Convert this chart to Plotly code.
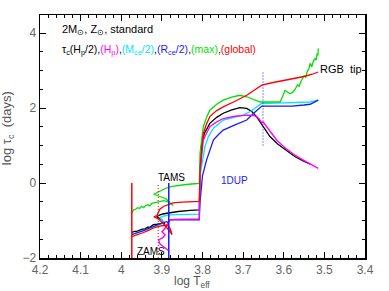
import plotly.graph_objects as go

# ---- data (log Teff, log tau_c) ----
black_T = [3.974,3.968,3.962,3.955,3.948,3.942,3.935,3.928,3.921,3.912,3.903,3.896,3.893,3.900,3.913,3.905,3.895,3.880,3.860,3.830,3.808,3.806,3.802,3.795,3.782,3.765,3.749,3.728,3.708,3.691,3.678,3.667,3.658,3.650,3.634,3.615,3.593,3.572,3.552,3.535]
black_y = [-1.32,-1.29,-1.29,-1.25,-1.23,-1.23,-1.18,-1.17,-1.11,-1.10,-1.08,-1.07,-1.10,-0.98,-0.90,-0.85,-0.82,-0.79,-0.76,-0.73,-0.72,0.20,1.06,1.33,1.59,1.75,1.86,1.95,2.01,1.99,1.90,1.77,1.62,1.47,1.24,1.04,0.86,0.70,0.59,0.50]

mag_T = [3.884,3.893,3.905,3.908,3.897,3.892,3.900,3.893,3.888,3.880,3.870,3.808,3.806,3.798,3.782,3.765,3.749,3.720,3.691,3.675,3.667,3.660,3.655,3.650,3.642,3.630,3.617,3.597,3.577,3.555,3.535,3.515]
mag_y = [-1.80,-1.72,-1.62,-1.52,-1.45,-1.38,-1.30,-1.22,-1.12,-0.98,-0.97,-0.96,0.30,1.15,1.50,1.63,1.72,1.78,1.81,1.80,1.77,1.70,1.62,1.62,1.50,1.32,1.14,0.94,0.78,0.63,0.50,0.39]

cyan_T = [3.974,3.940,3.910,3.895,3.905,3.895,3.880,3.850,3.808,3.806,3.794,3.785,3.773,3.760,3.749,3.720,3.700,3.680,3.665,3.655,3.620,3.580,3.550,3.535,3.515]
cyan_y = [-1.36,-1.25,-1.13,-1.05,-0.92,-0.88,-0.85,-0.84,-0.83,0.20,0.97,1.25,1.46,1.58,1.68,1.76,1.81,1.92,2.05,2.12,2.13,2.14,2.15,2.16,2.21]

blue_T = [3.974,3.960,3.945,3.930,3.915,3.900,3.888,3.885,3.880,3.850,3.808,3.806,3.800,3.790,3.773,3.760,3.749,3.720,3.691,3.672,3.654,3.620,3.580,3.550,3.535,3.515]
blue_y = [-1.38,-1.33,-1.27,-1.20,-1.13,-1.07,-1.03,-1.06,-0.98,-0.98,-0.98,-0.50,0.20,0.61,1.15,1.30,1.41,1.55,1.68,1.88,2.05,2.05,2.05,2.08,2.10,2.21]

green_T = [3.974,3.970,3.965,3.960,3.955,3.950,3.945,3.940,3.935,3.930,3.925,3.915,3.905,3.895,3.885,3.872,3.878,3.890,3.905,3.920,3.905,3.890,3.875,3.860,3.840,3.820,3.808,3.806,3.798,3.790,3.782,3.765,3.749,3.728,3.708,3.691,3.672,3.658,3.630,3.609,3.603,3.597,3.590,3.585,3.577,3.572,3.566,3.562,3.558,3.554,3.550,3.546,3.542,3.538,3.535,3.531,3.527,3.523,3.520,3.518,3.516,3.515]
green_y = [-0.80,-0.72,-0.70,-0.66,-0.68,-0.62,-0.66,-0.60,-0.58,-0.61,-0.54,-0.52,-0.50,-0.47,-0.50,-0.60,-0.55,-0.42,-0.35,-0.30,-0.22,-0.14,-0.09,-0.06,-0.04,-0.02,-0.01,0.80,1.50,1.75,1.94,2.10,2.21,2.29,2.34,2.30,2.23,2.16,2.16,2.16,2.30,2.47,2.42,2.38,2.43,2.50,2.62,2.58,2.70,2.78,2.86,2.82,2.98,3.05,3.19,3.10,3.25,3.32,3.28,3.45,3.40,3.59]

red_T = [3.974,3.960,3.945,3.930,3.921,3.905,3.888,3.880,3.875,3.880,3.895,3.910,3.920,3.912,3.905,3.895,3.872,3.850,3.808,3.806,3.798,3.790,3.782,3.765,3.749,3.720,3.691,3.672,3.654,3.626,3.600,3.570,3.550,3.530,3.515]
red_y = [-1.43,-1.38,-1.32,-1.25,-1.20,-1.15,-1.12,-1.20,-1.38,-1.30,-1.10,-0.95,-0.90,-0.87,-0.70,-0.62,-0.53,-0.51,-0.49,0.40,1.32,1.58,1.77,1.93,2.03,2.18,2.34,2.48,2.61,2.68,2.73,2.79,2.84,2.90,2.96]

# evolutionary markers (log Teff) and their vertical extent (log tau_c)
zams_T = 3.974
tams_T = 3.909
gap_T = 3.883
dup_T = 3.651
marker_lo = -2.0
marker_hi = 0.0
dup_lo, dup_hi = 1.0, 3.0

fig = go.Figure()
series = [
    (black_T, black_y, "black"),
    (cyan_T, cyan_y, "#00e5ff"),
    (blue_T, blue_y, "#1a1aff"),
    (mag_T, mag_y, "#ff00ff"),
    (green_T, green_y, "#00e000"),
    (red_T, red_y, "#ff0000"),
]
for xs, ys, c in series:
    fig.add_trace(go.Scatter(x=xs, y=ys, mode="lines", line=dict(color=c, width=1.3),
                             showlegend=False, hoverinfo="skip"))

fig.add_trace(go.Scatter(x=[zams_T, zams_T], y=[marker_lo, marker_hi], mode="lines",
                         line=dict(color="#ff0000", width=1.5), showlegend=False, hoverinfo="skip"))
fig.add_trace(go.Scatter(x=[gap_T, gap_T], y=[marker_lo, marker_hi], mode="lines",
                         line=dict(color="#1a1aff", width=1.5), showlegend=False, hoverinfo="skip"))
fig.add_trace(go.Scatter(x=[tams_T, tams_T], y=[marker_lo, marker_hi], mode="lines",
                         line=dict(color="#ff0000", width=1, dash="1px,2px"), showlegend=False, hoverinfo="skip"))
fig.add_trace(go.Scatter(x=[dup_T, dup_T], y=[dup_lo, dup_hi], mode="lines",
                         line=dict(color="#1a1aff", width=1, dash="1px,2px"), showlegend=False, hoverinfo="skip"))

font_family = "Liberation Sans, Arial, sans-serif"
annos = [
    dict(x=4.151, y=4.07, text="2M<sub>⊙</sub>, Z<sub>⊙</sub>, standard", color="black", size=11),
    dict(x=4.151, y=3.55,
         text=("τ<sub>c</sub>(H<sub>p</sub>/2),"
               "<span style='color:#ff00ff'>(H<sub>p</sub>)</span>,"
               "<span style='color:#00e5ff'>(M<sub>ce</sub>/2)</span>,"
               "<span style='color:#1a1aff'>(R<sub>ce</sub>/2)</span>,"
               "<span style='color:#00e000'>(max)</span>,"
               "<span style='color:#ff0000'>(global)</span>"), color="black", size=10.5),
    dict(x=3.5155, y=3.03, text="RGB  tip", color="black", size=11),
    dict(x=3.914, y=0.15, text="TAMS", color="black", size=10),
    dict(x=3.759, y=0.08, text="1DUP", color="#1a1aff", size=10),
    dict(x=3.965, y=-1.83, text="ZAMS", color="black", size=10),
]
for a in annos:
    fig.add_annotation(x=a["x"], y=a["y"], xref="x", yref="y", text=a["text"], showarrow=False,
                       xanchor="left", yanchor="middle",
                       font=dict(family=font_family, size=a["size"], color=a["color"]))

# axis titles placed as annotations (paper coordinates)
fig.add_annotation(x=0.468, y=-0.098, xref="paper", yref="paper", text="log T<sub>eff</sub>",
                   showarrow=False, xanchor="center", yanchor="middle",
                   font=dict(family=font_family, size=12, color="#555"))
fig.add_annotation(x=-0.098, y=0.535, xref="paper", yref="paper", text="log τ<sub>c</sub>  (days)",
                   showarrow=False, xanchor="center", yanchor="middle", textangle=-90,
                   font=dict(family=font_family, size=13, color="#555"))

axis_common = dict(showline=True, linecolor="black", linewidth=1.5, mirror="allticks",
                   ticks="inside", ticklen=6, tickcolor="black", showgrid=False, zeroline=False,
                   automargin=False,
                   tickfont=dict(family=font_family, size=12, color="#666"))
fig.update_xaxes(range=[4.2, 3.4], tickvals=[4.2, 4.1, 4.0, 3.9, 3.8, 3.7, 3.6, 3.5, 3.4],
                 ticktext=["4.2", "4.1", "4", "3.9", "3.8", "3.7", "3.6", "3.5", "3.4"],
                 minor=dict(ticks="inside", dtick=0.02, ticklen=3, tickcolor="black"),
                 **axis_common)
fig.update_yaxes(range=[-2, 4.48], tickvals=[-2, 0, 2, 4], ticktext=["−2", "0", "2", "4"],
                 minor=dict(ticks="inside", dtick=0.5, ticklen=3, tickcolor="black"),
                 **axis_common)
fig.update_layout(width=389, height=291, margin=dict(l=40, r=24, t=15, b=33),
                  plot_bgcolor="white", paper_bgcolor="white")
fig.write_html("out.html", config={"displayModeBar": False, "staticPlot": True},
               post_script="document.body.style.margin='0';")
